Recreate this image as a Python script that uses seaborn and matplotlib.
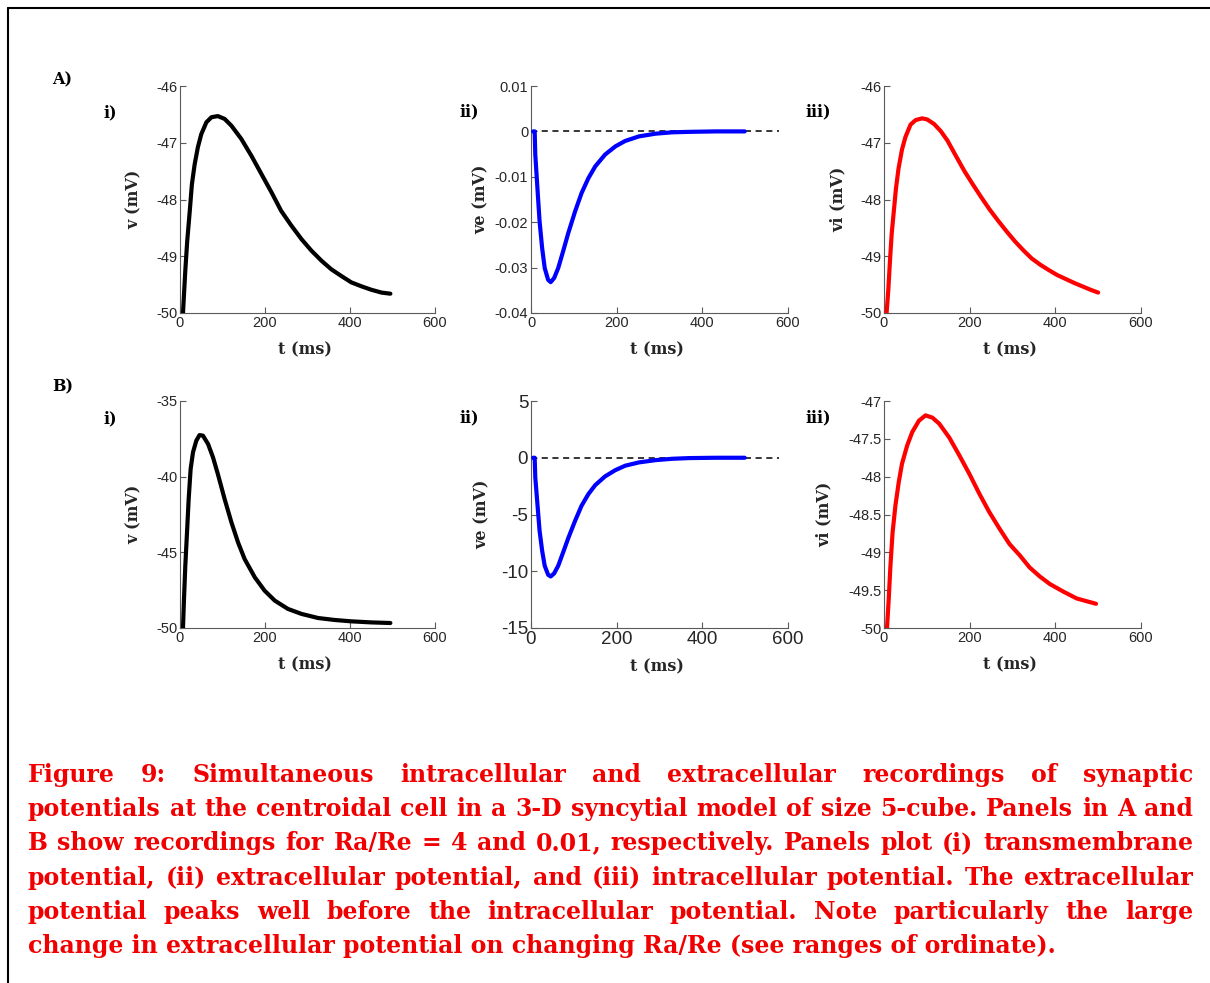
import matplotlib
matplotlib.use("Agg")
import matplotlib.pyplot as plt
from matplotlib.lines import Line2D
import seaborn as sns

# ---------------- data ----------------
# A-i : transmembrane potential, Ra/Re = 4
tA_v = [7, 12.5, 17, 23, 28, 34.5, 42, 50, 62, 74, 89, 105, 121, 144, 168, 191.5, 215,
        238, 262, 286, 309, 333, 356, 380, 403, 427, 450, 474, 495]
vA_v = [-50.0, -49.25, -48.73, -48.2, -47.73, -47.38, -47.08, -46.85, -46.64, -46.55,
        -46.53, -46.58, -46.70, -46.93, -47.23, -47.55, -47.87, -48.20, -48.46, -48.70,
        -48.90, -49.08, -49.23, -49.35, -49.46, -49.53, -49.59, -49.64, -49.66]
# A-ii : extracellular potential
tA_e = [5, 8.6, 10, 15, 20, 26, 32, 40, 46, 54, 63.5, 75, 87, 103, 118, 134, 150, 173,
        197, 220, 252, 291, 330, 369, 432, 499]
vA_e = [0, 0, -0.0051, -0.0125, -0.0198, -0.0257, -0.0301, -0.0327, -0.0332, -0.0323,
        -0.0301, -0.0264, -0.0224, -0.0176, -0.0136, -0.0103, -0.0077, -0.0051, -0.0033,
        -0.0021, -0.0011, -0.0005, -0.0002, -0.0001, 0, 0]
# A-iii : intracellular potential
tA_i = [6, 10, 14, 18, 23, 28, 34, 42, 50, 62, 74, 89, 101, 117, 133, 148, 167, 187,
        207, 227, 246, 266, 286, 306, 326, 345, 365, 384, 404, 424, 444, 463, 482, 500]
vA_i = [-50.0, -49.6, -49.07, -48.6, -48.2, -47.8, -47.45, -47.12, -46.9, -46.68,
        -46.6, -46.57, -46.59, -46.67, -46.80, -46.96, -47.22, -47.49, -47.73, -47.96,
        -48.17, -48.37, -48.56, -48.74, -48.90, -49.04, -49.15, -49.24, -49.33, -49.40,
        -49.47, -49.53, -49.59, -49.64]
# B-i : transmembrane potential, Ra/Re = 0.01
tB_v = [7, 9.4, 12.5, 16.5, 20.4, 25, 30.6, 38.4, 46, 54, 66, 77.6, 89, 105, 121, 136.5,
        152, 176, 199, 223, 254, 286, 325, 364, 403, 450, 495]
vB_v = [-50.0, -48.08, -45.88, -43.68, -41.48, -39.5, -38.39, -37.62, -37.25, -37.29,
        -37.84, -38.72, -39.82, -41.48, -43.02, -44.34, -45.44, -46.65, -47.53, -48.19,
        -48.74, -49.07, -49.34, -49.47, -49.56, -49.63, -49.67]
# B-ii : extracellular potential
tB_e = [5, 8.6, 10, 15, 20, 26, 32, 40, 46, 54, 63.5, 75, 87, 103, 118, 134, 150, 173,
        197, 220, 252, 291, 330, 369, 432, 499]
vB_e = [0, 0, -1.73, -4.08, -6.43, -8.19, -9.52, -10.31, -10.46, -10.19, -9.52, -8.34,
        -7.08, -5.55, -4.23, -3.2, -2.41, -1.64, -1.09, -0.70, -0.41, -0.21, -0.09,
        -0.03, 0, 0]
# B-iii : intracellular potential
tB_i = [7, 11, 15, 20, 26.7, 34.5, 42, 54, 66, 81.6, 97, 113, 129, 152, 176, 199, 223,
        246, 270, 293, 317, 340, 364, 387.5, 419, 450, 495]
vB_i = [-50.0, -49.62, -49.18, -48.74, -48.38, -48.07, -47.83, -47.59, -47.41, -47.26,
        -47.19, -47.22, -47.30, -47.48, -47.72, -47.96, -48.23, -48.47, -48.69, -48.89,
        -49.04, -49.20, -49.32, -49.42, -49.52, -49.61, -49.68]

zero_line_extent = [0, 580]

ylims = {"Ai": (-50, -46), "Aii": (-0.04, 0.01), "Aiii": (-50, -46),
         "Bi": (-50, -35), "Bii": (-15, 5), "Biii": (-50, -47)}
yticks = {"Ai": [-50, -49, -48, -47, -46],
          "Aii": [-0.04, -0.03, -0.02, -0.01, 0, 0.01],
          "Aiii": [-50, -49, -48, -47, -46],
          "Bi": [-50, -45, -40, -35],
          "Bii": [-15, -10, -5, 0, 5],
          "Biii": [-50, -49.5, -49, -48.5, -48, -47.5, -47]}
yticklabels = {"Ai": ["-50", "-49", "-48", "-47", "-46"],
               "Aii": ["-0.04", "-0.03", "-0.02", "-0.01", "0", "0.01"],
               "Aiii": ["-50", "-49", "-48", "-47", "-46"],
               "Bi": ["-50", "-45", "-40", "-35"],
               "Bii": ["-15", "-10", "-5", "0", "5"],
               "Biii": ["-50", "-49.5", "-49", "-48.5", "-48", "-47.5", "-47"]}
xticks = [0, 200, 400, 600]
xticklabels = ["0", "200", "400", "600"]
ylabels = {"Ai": "v (mV)", "Aii": "ve (mV)", "Aiii": "vi (mV)",
           "Bi": "v (mV)", "Bii": "ve (mV)", "Biii": "vi (mV)"}
xlabel = "t (ms)"
sub_labels = {"Ai": "i)", "Aii": "ii)", "Aiii": "iii)", "Bi": "i)", "Bii": "ii)", "Biii": "iii)"}

caption_lines = [
    "Figure 9: Simultaneous intracellular and extracellular recordings of synaptic",
    "potentials at the centroidal cell in a 3-D syncytial model of size 5-cube. Panels in A and",
    "B show recordings for Ra/Re = 4 and 0.01, respectively. Panels plot (i) transmembrane",
    "potential, (ii) extracellular potential, and (iii) intracellular potential. The extracellular",
    "potential peaks well before the intracellular potential. Note particularly the large",
    "change in extracellular potential on changing Ra/Re (see ranges of ordinate).",
]

# ---------------- styling ----------------
sns.set_style("white")
plt.rcParams["font.family"] = ["Liberation Sans", "DejaVu Sans"]
plt.rcParams["axes.unicode_minus"] = False

W, H = 1210, 983
fig = plt.figure(figsize=(W / 100, H / 100), dpi=100)
fig.patch.set_facecolor("white")


def fx(px):
    return px / W


def fy(py):
    return 1 - py / H


AX_COLOR = "#5a5a5a"
TXT_COLOR = "#262626"
SERIF = ["DejaVu Serif"]

cols = [(180, 435), (531, 788), (884, 1141)]
rows = [(86, 313), (401, 628)]

panels = {
    "Ai": (0, 0, tA_v, vA_v, "black"),
    "Aii": (0, 1, tA_e, vA_e, "#0000ff"),
    "Aiii": (0, 2, tA_i, vA_i, "#ff0000"),
    "Bi": (1, 0, tB_v, vB_v, "black"),
    "Bii": (1, 1, tB_e, vB_e, "#0000ff"),
    "Biii": (1, 2, tB_i, vB_i, "#ff0000"),
}
ylabel_x = {"Ai": -0.147, "Aii": -0.162, "Aiii": -0.146,
            "Bi": -0.147, "Bii": -0.158, "Biii": -0.2}
xlabel_y = {"Ai": -0.125, "Aii": -0.125, "Aiii": -0.125,
            "Bi": -0.125, "Bii": -0.135, "Biii": -0.125}
tick_fs = {"Ai": 10.5, "Aii": 10.5, "Aiii": 10.5, "Bi": 10.5, "Bii": 13.5, "Biii": 10.5}
sub_pos = {"Ai": (110, 113), "Aii": (469, 112), "Aiii": (818, 112),
           "Bi": (110, 419), "Bii": (469, 418), "Biii": (818, 418)}

for key, (r, c, tt, vv, color) in panels.items():
    x0, x1 = cols[c]
    y0, y1 = rows[r]
    ax = fig.add_axes([fx(x0), fy(y1), fx(x1 - x0), (y1 - y0) / H])
    ax.set_facecolor("white")
    if key in ("Aii", "Bii"):
        ax.hlines(0, zero_line_extent[0], zero_line_extent[1], colors="black",
                  linestyles=(0, (4, 3)), linewidth=1.1, zorder=1)
    sns.lineplot(x=tt, y=vv, ax=ax, color=color, linewidth=3.0, zorder=3,
                 sort=False, estimator=None)
    ax.set_xlim(0, 600)
    ax.set_ylim(*ylims[key])
    ax.set_xticks(xticks)
    ax.set_xticklabels(xticklabels)
    ax.set_yticks(yticks[key])
    ax.set_yticklabels(yticklabels[key])
    for s in ("top", "right"):
        ax.spines[s].set_visible(False)
    for s in ("left", "bottom"):
        ax.spines[s].set_color(AX_COLOR)
        ax.spines[s].set_linewidth(0.8)
    ax.tick_params(direction="in", length=4, width=0.8, color=AX_COLOR,
                   labelsize=tick_fs[key], labelcolor=TXT_COLOR, pad=2,
                   left=True, bottom=True)
    ax.set_xlabel(xlabel, fontfamily=SERIF, fontweight="bold", fontsize=11.5, color=TXT_COLOR)
    ax.set_ylabel(ylabels[key], fontfamily=SERIF, fontweight="bold", fontsize=11.5, color=TXT_COLOR)
    ax.xaxis.set_label_coords(0.49, xlabel_y[key])
    ax.yaxis.set_label_coords(ylabel_x[key], 0.5)
    ax.grid(False)
    sx, sy = sub_pos[key]
    fig.text(fx(sx), fy(sy), sub_labels[key], ha="center", va="center",
             fontfamily=SERIF, fontweight="bold", fontsize=11.5, color="black")

fig.text(fx(52), fy(80), "A)", ha="left", va="center", fontfamily=SERIF,
         fontweight="bold", fontsize=11.5, color="black")
fig.text(fx(52), fy(387), "B)", ha="left", va="center", fontfamily=SERIF,
         fontweight="bold", fontsize=11.5, color="black")

# frame lines (top and left)
fig.add_artist(Line2D([fx(8), fx(1210)], [fy(8), fy(8)], color="black", linewidth=1.5))
fig.add_artist(Line2D([fx(8), fx(8)], [fy(8), fy(983)], color="black", linewidth=1.5))

# ---------------- justified caption ----------------
renderer = fig.canvas.get_renderer()
CAP_COLOR = "#f00000"
CAP_FONT = ["DejaVu Serif"]


def text_width(s, size):
    t = fig.text(0, 0, s, fontsize=size, fontfamily=CAP_FONT, fontweight="bold")
    w = t.get_window_extent(renderer).width
    t.remove()
    return w


left_px, right_px = 28, 1193
avail = right_px - left_px
nat = max(text_width(l, 10) for l in caption_lines[:-1])
cap_size = 10 * avail / nat * 0.995

base0 = 782
step = 34.2
for i, line in enumerate(caption_lines):
    yb = fy(base0 + i * step)
    if i == len(caption_lines) - 1:
        fig.text(fx(left_px), yb, line, ha="left", va="baseline", fontsize=cap_size,
                 fontfamily=CAP_FONT, fontweight="bold", color=CAP_COLOR)
        continue
    words = line.split(" ")
    widths = [text_width(w, cap_size) for w in words]
    gap = (avail - sum(widths)) / (len(words) - 1)
    x = left_px
    for w, wd in zip(words, widths):
        fig.text(fx(x), yb, w, ha="left", va="baseline", fontsize=cap_size,
                 fontfamily=CAP_FONT, fontweight="bold", color=CAP_COLOR)
        x += wd + gap

fig.savefig("out.png", dpi=100, facecolor="white")
